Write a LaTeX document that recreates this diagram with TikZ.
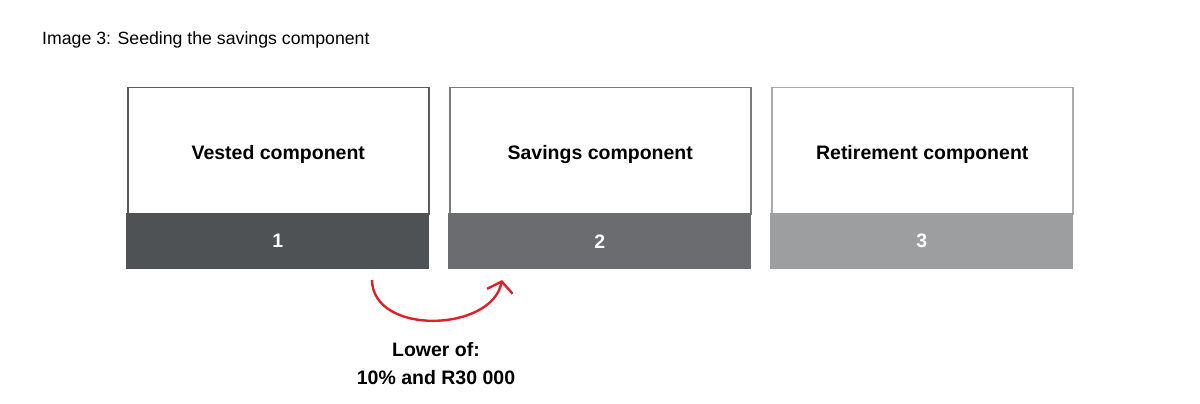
\documentclass[tikz,border=0pt]{standalone}
\usepackage{fontspec}
\setmainfont{Liberation Sans}
\usetikzlibrary{arrows.meta}
\definecolor{bandA}{HTML}{4F5254}
\definecolor{bandB}{HTML}{6B6C6F}
\definecolor{bandC}{HTML}{9C9E9F}
\definecolor{edgeA}{HTML}{5A5C5E}
\definecolor{edgeB}{HTML}{7A7B7E}
\definecolor{edgeC}{HTML}{A8AAAB}
\definecolor{arrowred}{HTML}{E41E26}
\tikzset{
  topbox/.style={draw=#1, line width=1.5pt, fill=white, minimum width=301pt, minimum height=126pt, inner sep=0pt, anchor=north west},
  band/.style={fill=#1, minimum width=302.5pt, minimum height=56pt, inner sep=0pt, anchor=north west, text=white, font=\bfseries\fontsize{19.5}{22}\selectfont},
  boxlbl/.style={font=\bfseries\fontsize{19.5}{22}\selectfont, inner sep=0pt},
  lbl/.style={font=\bfseries\fontsize{19.5}{28}\selectfont, align=center},
}
\begin{document}
\begin{tikzpicture}[x=1pt,y=-1pt]
\useasboundingbox (0,0) rectangle (1200,404);
\node[anchor=base west, inner sep=0pt, font=\fontsize{17.7}{20}\selectfont] (title) at (42,45) {Image 3: Seeding the savings component};
\node[topbox=edgeA] (b1) at (127,87) {};
\node[boxlbl] (t1) at ([yshift=-3.5pt]b1.center) {Vested component};
\node[band=bandA] (n1) at (126.25,213) {1};
\node[topbox=edgeB] (b2) at (449,87) {};
\node[boxlbl] (t2) at ([yshift=-3.5pt]b2.center) {Savings component};
\node[band=bandB] (n2) at (448.25,213) {2};
\node[topbox=edgeC] (b3) at (771,87) {};
\node[boxlbl] (t3) at ([yshift=-3.5pt]b3.center) {Retirement component};
\node[band=bandC] (n3) at (770.25,213) {3};
\coordinate (s) at (372,280);
\coordinate (e) at (502,280);
\draw[arrowred, line width=2.4pt, -{Straight Barb[length=10pt,width=26pt,line width=2.4pt]}] (s) .. controls (373,336) and (492,332) .. (e);
\node[lbl] (lower) at (436,364) {Lower of:\\10\% and R30 000};
\end{tikzpicture}
\end{document}
